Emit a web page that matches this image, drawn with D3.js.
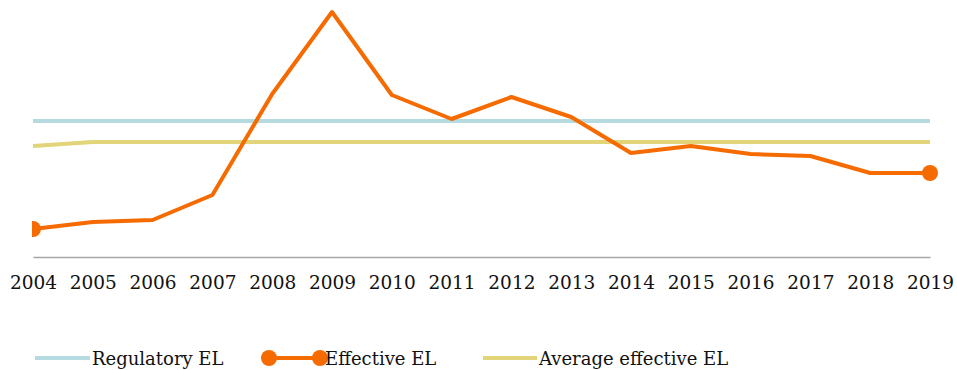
<!DOCTYPE html>
<html>
<head>
<meta charset="utf-8">
<script src="https://cdn.jsdelivr.net/npm/d3@7"></script>
<style>
  body { margin: 0; background: #fff; }
  svg text { font-family: "DejaVu Serif", serif; fill: #111; }
</style>
</head>
<body>
<svg id="chart" width="957" height="370"></svg>
<script>
// chart data
const years = ['2004','2005','2006','2007','2008','2009','2010','2011','2012','2013','2014','2015','2016','2017','2018','2019'];
const effectiveEL = [0.28, 0.35, 0.37, 0.62, 1.63, 2.45, 1.62, 1.38, 1.60, 1.40, 1.04, 1.11, 1.03, 1.01, 0.84, 0.84];
const regulatoryEL = [1.36, 1.36, 1.36, 1.36, 1.36, 1.36, 1.36, 1.36, 1.36, 1.36, 1.36, 1.36, 1.36, 1.36, 1.36, 1.36];
const averageEL = [1.11, 1.15, 1.15, 1.15, 1.15, 1.15, 1.15, 1.15, 1.15, 1.15, 1.15, 1.15, 1.15, 1.15, 1.15, 1.15];

const blue = '#b5dbe0', orange = '#f56b00', yellow = '#e2d479';

const svg = d3.select('#chart');
const mLeft = 33, mRight = 930, mBottom = 257, mTop = 7;

const x = d3.scalePoint().domain(years).range([mLeft, mRight]);
const y = d3.scaleLinear().domain([0, 2.5]).range([mBottom, mTop]);

svg.append('defs').append('clipPath').attr('id', 'plot')
  .append('rect').attr('x', mLeft - 1).attr('y', 0).attr('width', mRight - mLeft + 20).attr('height', mBottom + 5);

// x axis
const xAxis = d3.axisBottom(x).tickSize(0).tickPadding(19);
const ax = svg.append('g').attr('transform', `translate(0,${mBottom})`).call(xAxis);
ax.select('.domain').attr('stroke', '#a6a6a6').attr('stroke-width', 1.5);
ax.selectAll('text').style('font-size', '18.5px').style('font-family', '"DejaVu Serif", serif').attr('fill', '#111');

const line = d3.line().x((d, i) => x(years[i])).y(d => y(d));
const g = svg.append('g').attr('clip-path', 'url(#plot)');

g.append('path').datum(regulatoryEL).attr('d', line)
  .attr('fill', 'none').attr('stroke', blue).attr('stroke-width', 4);
g.append('path').datum(averageEL).attr('d', line)
  .attr('fill', 'none').attr('stroke', yellow).attr('stroke-width', 4);
g.append('path').datum(effectiveEL).attr('d', line)
  .attr('fill', 'none').attr('stroke', orange).attr('stroke-width', 4).attr('stroke-linejoin', 'round');

// markers only on the end points
const ends = [0, effectiveEL.length - 1];
g.selectAll('.dot').data(ends).join('circle')
  .attr('cx', i => x(years[i])).attr('cy', i => y(effectiveEL[i]))
  .attr('r', 8).attr('fill', orange);

// legend
const lg = svg.append('g').attr('transform', 'translate(0,358)');
const legend = [
  {name: 'Regulatory EL', color: blue, x0: 35, x1: 90, tx: 92, dots: false},
  {name: 'Effective EL', color: orange, x0: 269, x1: 320, tx: 325, dots: true},
  {name: 'Average effective EL', color: yellow, x0: 483, x1: 537, tx: 539, dots: false}
];
legend.forEach(d => {
  lg.append('line').attr('x1', d.x0).attr('x2', d.x1).attr('y1', 0).attr('y2', 0)
    .attr('stroke', d.color).attr('stroke-width', 4);
  if (d.dots) {
    [d.x0, d.x1].forEach(cx => lg.append('circle').attr('cx', cx).attr('cy', 0).attr('r', 8).attr('fill', d.color));
  }
  lg.append('text').attr('x', d.tx).attr('y', 7).style('font-size', '18px').text(d.name);
});
</script>
</body>
</html>
